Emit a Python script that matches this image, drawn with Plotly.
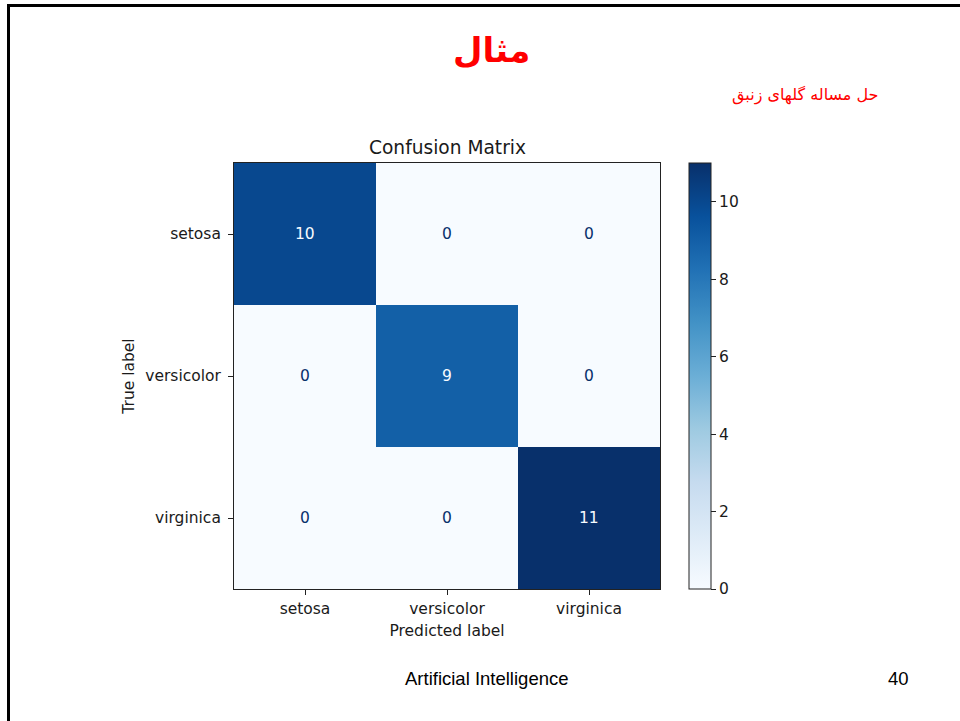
import plotly.graph_objects as go

# Iris classifier results: rows = true class, columns = predicted class
class_names = ["setosa", "versicolor", "virginica"]
confusion = [
    [10, 0, 0],
    [0, 9, 0],
    [0, 0, 11],
]
colorbar_ticks = [0, 2, 4, 6, 8, 10]

slide_title = "مثال"
slide_subtitle = "حل مساله گلهای زنبق"
footer_text = "Artificial Intelligence"
page_number = "40"

# ColorBrewer Blues (same stops matplotlib interpolates)
blues = ["#f7fbff", "#deebf7", "#c6dbef", "#9ecae1", "#6baed6",
         "#4292c6", "#2171b5", "#08519c", "#08306b"]
blues_scale = [[i / (len(blues) - 1), c] for i, c in enumerate(blues)]

W, H = 960, 721
zmin = min(min(r) for r in confusion)
zmax = max(max(r) for r in confusion)
threshold = (zmin + zmax) / 2

# plot area in pixels
px_left, px_right, px_top, px_bottom = 234, 660, 163, 589

def fx(px):
    return px / W

def fy(py):
    return 1 - py / H

tick_font = dict(family="DejaVu Sans", size=15.5, color="#1a1a1a")

fig = go.Figure()
fig.add_trace(go.Heatmap(
    z=confusion,
    x=class_names,
    y=class_names,
    zmin=zmin,
    zmax=zmax,
    colorscale=blues_scale,
    hoverinfo="skip",
    colorbar=dict(
        x=fx(689), xanchor="left", xpad=0,
        y=fy((px_top + px_bottom) / 2), yanchor="middle", ypad=0,
        len=px_bottom - px_top, lenmode="pixels",
        thickness=22, thicknessmode="pixels",
        outlinewidth=1, outlinecolor="#222",
        tickvals=colorbar_ticks,
        ticks="outside", ticklen=5, tickcolor="#222", tickwidth=1,
        tickfont=tick_font,
    ),
))

# cell value labels, light on dark cells and dark on light cells
for i, row in enumerate(confusion):
    for j, v in enumerate(row):
        fig.add_annotation(
            x=class_names[j], y=class_names[i], text=str(v), showarrow=False,
            font=dict(family="DejaVu Sans", size=15.5,
                      color=blues[0] if v > threshold else blues[-1]),
        )

axis_common = dict(
    showline=True, mirror=True, linecolor="#222", linewidth=1,
    ticks="outside", ticklen=5, tickcolor="#222", tickwidth=1,
    tickfont=tick_font, showgrid=False, zeroline=False,
)
fig.update_xaxes(domain=[fx(px_left), fx(px_right)], **axis_common,
                 title=dict(text="Predicted label", font=tick_font, standoff=8))
fig.update_yaxes(domain=[fy(px_bottom), fy(px_top)], autorange="reversed",
                 ticklabelstandoff=4, **axis_common,
                 title=dict(text="True label", font=tick_font, standoff=6))


def paper_text(x_px, y_px, text, font, xanchor="center"):
    fig.add_annotation(x=fx(x_px), y=fy(y_px), xref="paper", yref="paper",
                       xanchor=xanchor, yanchor="middle",
                       text=text, showarrow=False, font=font)


# chart title
paper_text(447, 147, "Confusion Matrix",
           dict(family="DejaVu Sans", size=18.6, color="#1a1a1a"))

# slide heading and subtitle
paper_text(491, 50, "<b>" + slide_title + "</b>",
           dict(family="DejaVu Sans", size=34, color="#ff0000"))
paper_text(880, 95, slide_subtitle,
           dict(family="DejaVu Sans", size=16, color="#ff0000"), xanchor="right")

# footer
paper_text(487, 678, footer_text,
           dict(family="Liberation Sans", size=18.5, color="#000"))
paper_text(898, 678, page_number,
           dict(family="Liberation Sans", size=18.5, color="#000"))

# slide frame: left and top edges
fig.add_shape(type="line", xref="paper", yref="paper",
              x0=fx(8.5), y0=0, x1=fx(8.5), y1=fy(5.5),
              line=dict(color="#000", width=3))
fig.add_shape(type="line", xref="paper", yref="paper",
              x0=fx(7), y0=fy(5.5), x1=1, y1=fy(5.5),
              line=dict(color="#000", width=3))

fig.update_layout(
    width=W, height=H,
    margin=dict(l=0, r=0, t=0, b=0),
    paper_bgcolor="white", plot_bgcolor="white",
    showlegend=False,
)

fig.write_html("out.html")
